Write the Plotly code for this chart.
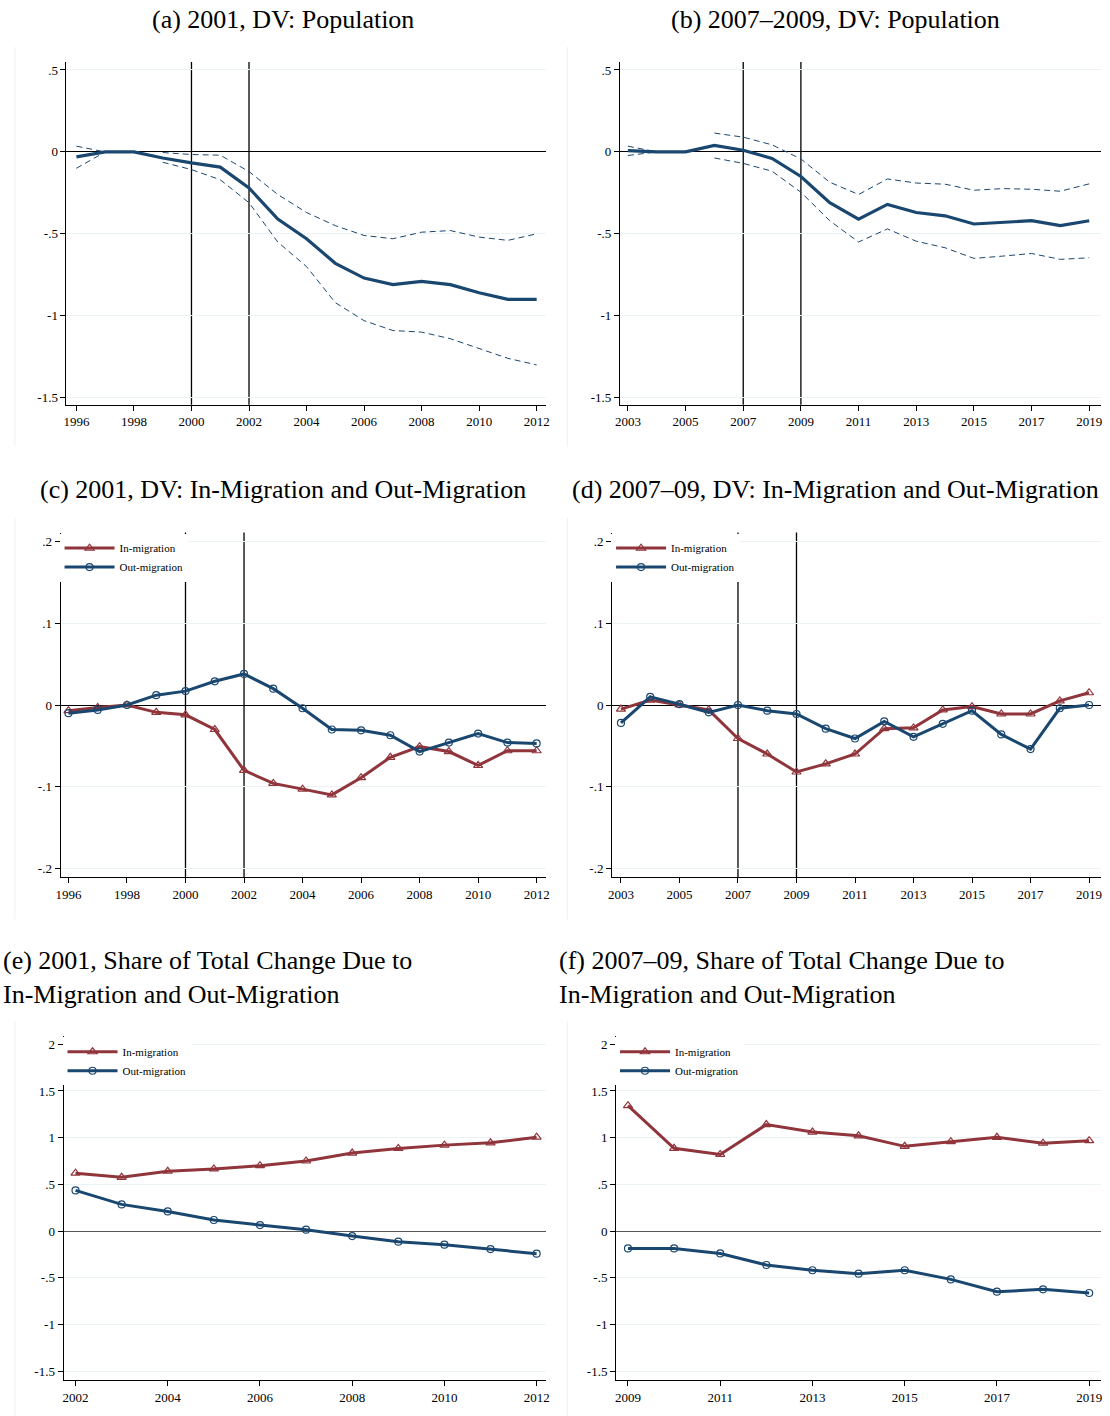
"""Event-study panels: population and migration responses (six panels)."""
import plotly.graph_objects as go
from plotly.subplots import make_subplots

W, H = 1110, 1416
NAVY = "#1a476f"
MAROON = "#90353b"
FONT = "Liberation Serif, Times New Roman, serif"

# ---- data -------------------------------------------------------------
years_a = list(range(1996, 2013))
pop_a = [-0.03, 0, 0, -0.037, -0.067, -0.093, -0.22, -0.41, -0.53, -0.68,
         -0.77, -0.81, -0.79, -0.81, -0.86, -0.90, -0.90]
pop_a_hi = [0.035, 0, None, -0.004, -0.016, -0.02, -0.12, -0.26, -0.37, -0.45,
            -0.51, -0.53, -0.49, -0.48, -0.52, -0.54, -0.50]
pop_a_lo = [-0.10, 0, None, -0.063, -0.108, -0.17, -0.31, -0.55, -0.70, -0.92,
            -1.03, -1.09, -1.10, -1.14, -1.20, -1.26, -1.30]

years_b = list(range(2003, 2020))
pop_b = [0.008, 0, 0, 0.04, 0.01, -0.04, -0.15, -0.31, -0.41, -0.32,
         -0.37, -0.39, -0.44, -0.43, -0.42, -0.45, -0.42]
pop_b_hi = [0.035, 0, None, 0.115, 0.09, 0.043, -0.043, -0.185, -0.26, -0.165,
            -0.19, -0.197, -0.234, -0.224, -0.228, -0.24, -0.195]
pop_b_lo = [-0.022, 0, None, -0.037, -0.07, -0.118, -0.246, -0.42, -0.55, -0.47,
            -0.545, -0.585, -0.65, -0.636, -0.62, -0.656, -0.646]

in_c = [-0.007, -0.003, 0, -0.009, -0.012, -0.030, -0.080, -0.096, -0.103,
        -0.110, -0.089, -0.064, -0.051, -0.057, -0.074, -0.056, -0.056]
out_c = [-0.010, -0.006, 0, 0.012, 0.017, 0.029, 0.038, 0.020, -0.004,
         -0.030, -0.031, -0.037, -0.057, -0.046, -0.035, -0.046, -0.047]

in_d = [-0.005, 0.006, 0, -0.006, -0.041, -0.060, -0.082, -0.072, -0.060,
        -0.029, -0.028, -0.006, -0.002, -0.011, -0.011, 0.005, 0.015]
out_d = [-0.022, 0.010, 0.001, -0.009, 0, -0.007, -0.011, -0.029, -0.041,
         -0.020, -0.039, -0.023, -0.007, -0.036, -0.054, -0.004, 0]

years_e = list(range(2002, 2013))
in_e = [0.62, 0.575, 0.64, 0.665, 0.70, 0.75, 0.835, 0.885, 0.92, 0.945, 1.005]
out_e = [0.435, 0.285, 0.21, 0.118, 0.064, 0.014, -0.054, -0.114, -0.146,
         -0.193, -0.243]

years_f = list(range(2009, 2020))
in_f = [1.343, 0.886, 0.82, 1.14, 1.06, 1.02, 0.907, 0.957, 1.004, 0.94, 0.968]
out_f = [-0.186, -0.186, -0.24, -0.364, -0.42, -0.457, -0.42, -0.518, -0.65,
         -0.625, -0.664]

titles = ["(a) 2001, DV: Population", "(b) 2007\u20132009, DV: Population",
          "(c) 2001, DV: In-Migration and Out-Migration",
          "(d) 2007\u201309, DV: In-Migration and Out-Migration",
          "(e) 2001, Share of Total Change Due to<br>In-Migration and Out-Migration",
          "(f) 2007\u201309, Share of Total Change Due to<br>In-Migration and Out-Migration"]

# ---- layout helpers ---------------------------------------------------
# plot-area boxes in pixels: x0, x1, y0(top), y1(bottom)
boxes = [(62, 545, 62, 405), (620, 1105, 62, 405),
         (56, 545, 533, 878), (612, 1105, 533, 878),
         (59, 545, 1037, 1381), (616, 1105, 1037, 1381)]
xranges = [(1995.655, 2012.31), (2002.725, 2019.41),
           (1995.73, 2012.305), (2002.695, 2019.41),
           (2001.74, 2012.194), (2008.74, 2019.258)]
yranges = [(-1.543, 0.549), (-1.543, 0.549),
           (-0.211, 0.211), (-0.211, 0.211),
           (-1.596, 2.086), (-1.596, 2.086)]
ytick_pop = ([0.5, 0, -0.5, -1, -1.5], [".5", "0", "-.5", "-1", "-1.5"])
ytick_mig = ([0.2, 0.1, 0, -0.1, -0.2], [".2", ".1", "0", "-.1", "-.2"])
ytick_share = ([2, 1.5, 1, 0.5, 0, -0.5, -1, -1.5],
               ["2", "1.5", "1", ".5", "0", "-.5", "-1", "-1.5"])
yticks = [ytick_pop, ytick_pop, ytick_mig, ytick_mig, ytick_share, ytick_share]
vlines = [[2000, 2002], [2007, 2009], [2000, 2002], [2007, 2009], [], []]


def px(x):
    return x / W


def py(y):
    return 1 - y / H


fig = make_subplots(rows=3, cols=2)

# ---- traces -----------------------------------------------------------
def add_pop(years, est, hi, lo, row, col):
    for ci in (hi, lo):
        fig.add_trace(go.Scatter(x=years, y=ci, mode="lines",
                                 line=dict(color=NAVY, width=1, dash="6px,4px"),
                                 connectgaps=False, showlegend=False), row=row, col=col)
    fig.add_trace(go.Scatter(x=years, y=est, mode="lines",
                             line=dict(color=NAVY, width=3.2),
                             showlegend=False), row=row, col=col)


def add_mig(years, inm, outm, row, col, legend):
    fig.add_trace(go.Scatter(x=years, y=inm, mode="lines+markers", name="In-migration",
                             line=dict(color=MAROON, width=3),
                             marker=dict(symbol="triangle-up-open", size=8, color=MAROON,
                                         line=dict(width=1.2)),
                             legend=legend), row=row, col=col)
    fig.add_trace(go.Scatter(x=years, y=outm, mode="lines+markers", name="Out-migration",
                             line=dict(color=NAVY, width=3),
                             marker=dict(symbol="circle-open", size=7, color=NAVY,
                                         line=dict(width=1.2)),
                             legend=legend), row=row, col=col)


add_pop(years_a, pop_a, pop_a_hi, pop_a_lo, 1, 1)
add_pop(years_b, pop_b, pop_b_hi, pop_b_lo, 1, 2)
add_mig(years_a, in_c, out_c, 2, 1, "legend")
add_mig(years_b, in_d, out_d, 2, 2, "legend2")
add_mig(years_e, in_e, out_e, 3, 1, "legend3")
add_mig(years_f, in_f, out_f, 3, 2, "legend4")

# ---- axes -------------------------------------------------------------
shapes = []
annotations = []
for i, (x0, x1, y0, y1) in enumerate(boxes):
    row, col = i // 2 + 1, i % 2 + 1
    fig.update_xaxes(domain=[px(x0), px(x1)], range=list(xranges[i]),
                     dtick=2, tick0=2001 if i in (1, 3, 5) else 2000,
                     showgrid=False, zeroline=False, showline=True,
                     linecolor="black", linewidth=1, ticks="outside", ticklen=5,
                     tickcolor="black", tickfont=dict(family=FONT, size=13, color="black"),
                     row=row, col=col)
    fig.update_yaxes(domain=[py(y1), py(y0)], range=list(yranges[i]),
                     tickvals=yticks[i][0], ticktext=yticks[i][1],
                     showgrid=True, gridcolor="#eaf2f3", gridwidth=1,
                     zeroline=True, zerolinewidth=1.3,
                     zerolinecolor="black" if i < 4 else "#555555",
                     showline=True, linecolor="black", linewidth=1, ticks="outside",
                     ticklen=5, tickcolor="black",
                     tickfont=dict(family=FONT, size=13, color="black"),
                     row=row, col=col)

    xs = "x" if i == 0 else f"x{i + 1}"
    ys = "y" if i == 0 else f"y{i + 1}"
    for v in vlines[i]:
        shapes.append(dict(type="line", xref=xs, yref=f"{ys} domain", x0=v, x1=v, y0=0, y1=1,
                           line=dict(color="black", width=1.3), layer="below"))
    # faint graph-region edge
    gx = 10 if col == 1 else 567
    gy0, gy1 = y0 - 15, y1 + 42
    shapes.append(dict(type="line", xref="paper", yref="paper", x0=px(gx), x1=px(gx),
                       y0=py(gy0), y1=py(gy1), line=dict(color="#edf2f5", width=1)))

# ---- titles -----------------------------------------------------------
title_pos = [(280, 20, "center"), (837, 20, "center"),
             (280, 490, "center"), (837, 490, "center"),
             (-4, 978, "left"), (557, 978, "left")]
for t, (x, y, anc) in zip(titles, title_pos):
    annotations.append(dict(text=t, xref="paper", yref="paper", x=px(x), y=py(y),
                            xanchor=anc, yanchor="middle", align="left", showarrow=False,
                            font=dict(family=FONT, size=26, color="black")))

legend_style = dict(bgcolor="white", borderwidth=0, xanchor="left", yanchor="top",
                    font=dict(family=FONT, size=11, color="black"),
                    itemwidth=50, tracegroupgap=0)
fig.update_layout(
    width=W, height=H, margin=dict(l=0, r=0, t=0, b=0),
    paper_bgcolor="white", plot_bgcolor="white",
    shapes=shapes, annotations=annotations,
    legend=dict(x=px(55), y=py(534), **legend_style),
    legend2=dict(x=px(611), y=py(534), **legend_style),
    legend3=dict(x=px(58), y=py(1038), **legend_style),
    legend4=dict(x=px(615), y=py(1038), **legend_style),
)

# drop the default page margin so the figure sits at the window's origin
fig.write_html("out.html", config={"displayModeBar": False},
               post_script="document.body.style.margin='0';"
                           "document.documentElement.style.overflow='hidden';")
